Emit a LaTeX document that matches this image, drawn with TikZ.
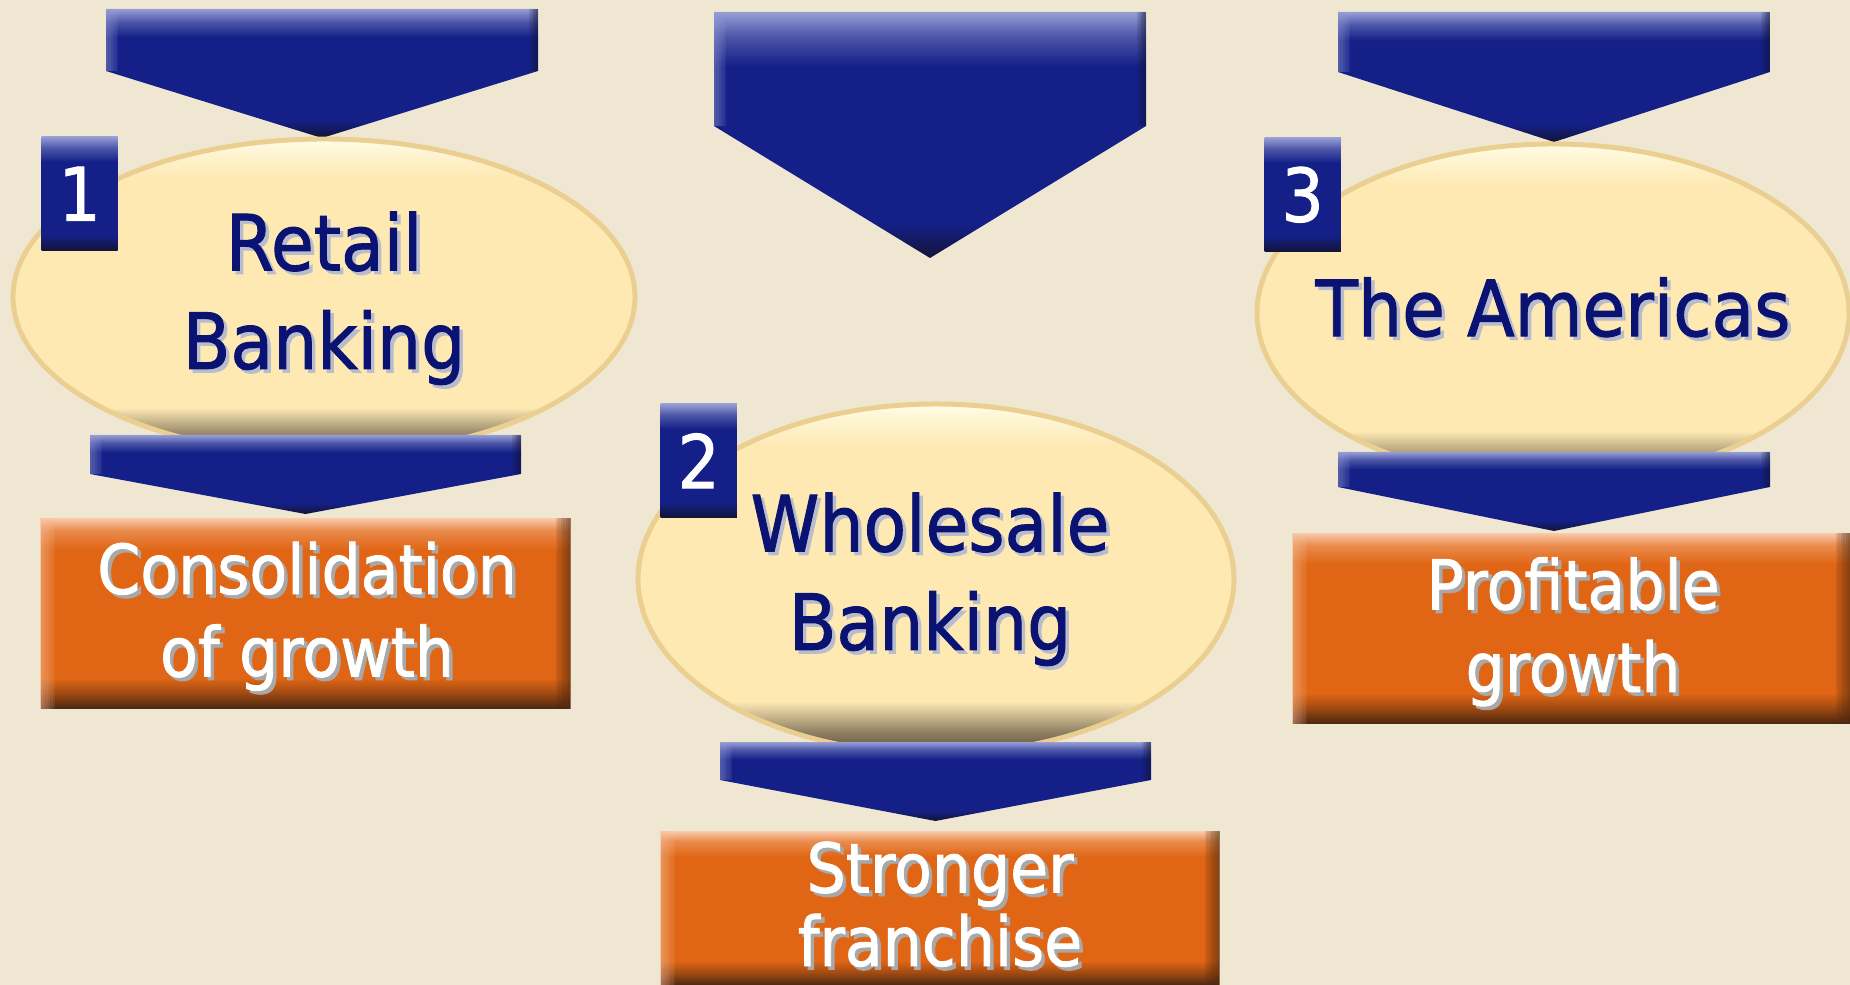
\documentclass[tikz,border=0pt]{standalone}
\usepackage{fontspec}
\setmainfont{DejaVu Sans}[FakeStretch=0.9, FakeBold=1.2]

\definecolor{paper}{HTML}{F0E7D3}
\definecolor{navy}{HTML}{142088}
\definecolor{navylight}{HTML}{979ED6}
\definecolor{navymid}{HTML}{4C56A8}
\definecolor{navydark}{HTML}{121436}
\definecolor{ellrim}{HTML}{EACF90}
\definecolor{ellbody}{HTML}{FEE9B3}
\definecolor{elltop}{HTML}{FFFCE6}
\definecolor{ellbrown}{HTML}{8C7C60}
\definecolor{elldark}{HTML}{5A4C3A}
\definecolor{orng}{HTML}{E06615}
\definecolor{orngpeach}{HTML}{F8C4A2}
\definecolor{orngdeep}{HTML}{A04A12}
\definecolor{orngdark}{HTML}{4E2810}
\definecolor{ink}{HTML}{0A1272}
\definecolor{inkshade}{HTML}{B9BCCC}
\definecolor{whiteshade}{HTML}{A8A8A8}

% glossy fills, 25bp = bottom of the path, 75bp = top
\pgfdeclareverticalshading{navyshade}{100bp}{color(0bp)=(navydark); color(25bp)=(navydark);
  color(32bp)=(navy); color(64bp)=(navy); color(70bp)=(navymid); color(75bp)=(navylight); color(100bp)=(navylight)}
\pgfdeclareverticalshading{ovalshade}{100bp}{color(0bp)=(elldark); color(25bp)=(elldark);
  color(28bp)=(ellbrown); color(32.5bp)=(ellbody); color(69bp)=(ellbody); color(75bp)=(elltop); color(100bp)=(elltop)}
\pgfdeclareverticalshading{orngshade}{100bp}{color(0bp)=(orngdark); color(25bp)=(orngdark);
  color(29bp)=(orngdeep); color(33bp)=(orng); color(67bp)=(orng); color(72bp)=(orng!60!orngpeach); color(75bp)=(orngpeach); color(100bp)=(orngpeach)}

% text with a small drop shadow
\newcommand\shadowed[2]{\makebox[0pt][l]{\kern1pt\raisebox{-1pt}{\textcolor{#1}{#2}}}#2}

\tikzset{
	chevron/.style={shade, shading=navyshade},
	oval/.style={draw=ellrim, line width=1.4pt, shading=ovalshade},
	ovaltext/.style={text=ink, align=center, font=\fontsize{22}{28}\selectfont},
	numbox/.style={shade, shading=navyshade, anchor=north west, inner sep=0pt,
		minimum width=.76cm, minimum height=1.14cm, text=white, font=\fontsize{21}{21}\selectfont},
	goal/.style={shade, shading=orngshade, inner sep=0pt},
	goaltext/.style={text=white, align=center, font=\fontsize{19.5}{23.5}\selectfont},
}

\begin{document}
\begin{tikzpicture}[x=0.01cm, y=-0.01cm]
		\clip (0,0) rectangle (1850,985);
		\fill[paper] (0,0) rectangle (1850,985);

		% arrows feeding the three ovals
		\foreach \xa/\xb/\yt/\ys/\yp in {106/538/9/71/138, 714/1146/12/126/258, 1338/1770/12/72/142} {
			\shade[chevron] (\xa,\yt) -- (\xb,\yt) -- (\xb,\ys) -- ({(\xa+\xb)/2},\yp) -- (\xa,\ys) -- cycle;
			\foreach \i in {1,...,5} {
				\fill[navylight, opacity=.12] (\xa,\yt) rectangle (\xa+\i*2.4,\ys);
				\fill[navydark, opacity=.14] (\xb-\i*1.8,\yt) rectangle (\xb,\ys);
			}
		}

		% the ovals
		\shadedraw[oval] (324,297) ellipse [x radius=311, y radius=158];
		\shadedraw[oval] (936,579) ellipse [x radius=298, y radius=175];
		\shadedraw[oval] (1553,313) ellipse [x radius=296, y radius=169];

		\node[ovaltext] (retail) at (324,300) {\shadowed{inkshade}{Retail}\\\shadowed{inkshade}{Banking}};
		\node[ovaltext] (wholesale) at (930,581) {\shadowed{inkshade}{Wholesale}\\\shadowed{inkshade}{Banking}};
		\node[ovaltext] (americas) at (1553,309) {\shadowed{inkshade}{The Americas}};

		% arrows out of the ovals
		\foreach \xa/\xb/\yt/\ys/\yp in {90/521/435/474/514, 720/1151/742/780/821, 1338/1770/452/487/531} {
			\shade[chevron] (\xa,\yt) -- (\xb,\yt) -- (\xb,\ys) -- ({(\xa+\xb)/2},\yp) -- (\xa,\ys) -- cycle;
			\foreach \i in {1,...,5} {
				\fill[navylight, opacity=.12] (\xa,\yt) rectangle (\xa+\i*2.4,\ys);
				\fill[navydark, opacity=.14] (\xb-\i*1.8,\yt) rectangle (\xb,\ys);
			}
		}

		\node[numbox] (one) at (41,136) {1};
		\node[numbox] (two) at (660,403) {2};
		\node[numbox] (three) at (1264,137) {3};

		% outcomes
		\node[goal, minimum width=5.29cm, minimum height=1.89cm] (consolidation) at (305.5,613.5) {};
		\node[goal, minimum width=5.58cm, minimum height=1.53cm] (franchise) at (940,908.5) {};
		\node[goal, minimum width=5.57cm, minimum height=1.89cm] (profitable) at (1571.5,628.5) {};
		\foreach \b in {consolidation, franchise, profitable} {
			\foreach \i in {1,...,6} {
				\fill[orngpeach, opacity=.1] (\b.north west) rectangle ([xshift=\i*.025cm]\b.south west);
				\fill[orngdark, opacity=.13] ([xshift=-\i*.025cm]\b.north east) rectangle (\b.south east);
			}
		}

		\node[goaltext] (consolidationtext) at (307,618) {\shadowed{whiteshade}{Consolidation}\\\shadowed{whiteshade}{of growth}};
		\node[goaltext, font=\fontsize{19.5}{18.5}\selectfont] (franchisetext) at (940,906) {\shadowed{whiteshade}{Stronger}\\\shadowed{whiteshade}{franchise}};
		\node[goaltext] (profitabletext) at (1573,633.5) {\shadowed{whiteshade}{Profitable}\\\shadowed{whiteshade}{growth}};
	\end{tikzpicture}
\end{document}
